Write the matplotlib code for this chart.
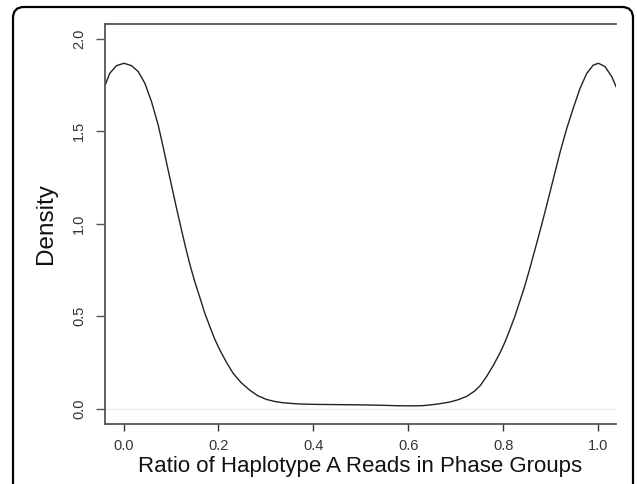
import matplotlib
matplotlib.use("Agg")
import matplotlib.pyplot as plt
from matplotlib.patches import FancyBboxPatch

plt.rcParams['font.family'] = ['Liberation Sans', 'DejaVu Sans']

# Density curve
ratio = [-0.040, -0.029, -0.015, 0.001, 0.017, 0.031, 0.045, 0.059, 0.073,
         0.083, 0.094, 0.103, 0.112, 0.122, 0.131, 0.140, 0.150, 0.161,
         0.171, 0.182, 0.192, 0.203, 0.217, 0.231, 0.248, 0.266, 0.283,
         0.301, 0.320, 0.336, 0.355, 0.372, 0.407, 0.442, 0.477, 0.512,
         0.547, 0.575, 0.604, 0.630, 0.653, 0.670, 0.688, 0.705, 0.723,
         0.740, 0.752, 0.765, 0.779, 0.793, 0.804, 0.814, 0.825, 0.835,
         0.846, 0.856, 0.867, 0.879, 0.892, 0.906, 0.920, 0.934, 0.948,
         0.962, 0.976, 0.990, 1.001, 1.015, 1.029, 1.038]
density = [1.741, 1.813, 1.854, 1.867, 1.854, 1.822, 1.759, 1.659, 1.534,
           1.420, 1.290, 1.185, 1.080, 0.968, 0.870, 0.778, 0.688, 0.600,
           0.518, 0.443, 0.377, 0.317, 0.250, 0.191, 0.140, 0.100, 0.070,
           0.050, 0.038, 0.032, 0.028, 0.025, 0.023, 0.022, 0.021, 0.020,
           0.018, 0.016, 0.015, 0.016, 0.022, 0.028, 0.036, 0.048, 0.066,
           0.095, 0.125, 0.173, 0.232, 0.299, 0.360, 0.425, 0.500, 0.578,
           0.665, 0.755, 0.858, 0.972, 1.100, 1.243, 1.385, 1.513, 1.625,
           1.730, 1.811, 1.857, 1.867, 1.849, 1.795, 1.741]

x_ticks = [0.0, 0.2, 0.4, 0.6, 0.8, 1.0]
x_labels = ["0.0", "0.2", "0.4", "0.6", "0.8", "1.0"]
y_ticks = [0.0, 0.5, 1.0, 1.5, 2.0]
y_labels = ["0.0", "0.5", "1.0", "1.5", "2.0"]

W, H = 637, 484
fig = plt.figure(figsize=(W / 100, H / 100), dpi=100)

# background frame with rounded corners (pixel coordinates)
bg = fig.add_axes([0, 0, 1, 1], zorder=0)
bg.set_xlim(0, W)
bg.set_ylim(0, H)
bg.axis('off')
frame = FancyBboxPatch((13, -40), 620, H - 7 + 40,
                       boxstyle="round,pad=0,rounding_size=11",
                       fill=False, edgecolor='black', linewidth=1.6)
bg.add_patch(frame)

left, right, top, bottom = 104.7, 616, 23.7, 424
ax = fig.add_axes([left / W, 1 - bottom / H, (right - left) / W, (bottom - top) / H], zorder=1)
ax.patch.set_alpha(0)

ax.axhline(0, color='#efefef', linewidth=1.0, zorder=1)
ax.plot(ratio, density, color='#222222', linewidth=1.0, zorder=2)

ax.set_xlim(-0.0397, 1.038)
ax.set_ylim(-0.083, 2.081)

ax.spines['right'].set_visible(False)
for s in ['left', 'bottom', 'top']:
    ax.spines[s].set_color('#555555')
    ax.spines[s].set_linewidth(1.3)

ax.set_xticks(x_ticks)
ax.set_xticklabels(x_labels)
ax.set_yticks(y_ticks)
ax.set_yticklabels(y_labels, rotation=90, va='center')
ax.tick_params(axis='x', length=5, width=1.0, color='#333333', pad=6,
               labelsize=10.5, labelcolor='#333333')
ax.tick_params(axis='y', length=6.5, width=1.0, color='#555555', pad=7,
               labelsize=10.5, labelcolor='#333333')

ax.set_xlabel("Ratio of Haplotype A Reads in Phase Groups", fontsize=16,
              color='#111111', labelpad=2)
ax.set_ylabel("Density", fontsize=17.5, color='#111111', labelpad=11)

fig.savefig("out.png", dpi=100)
